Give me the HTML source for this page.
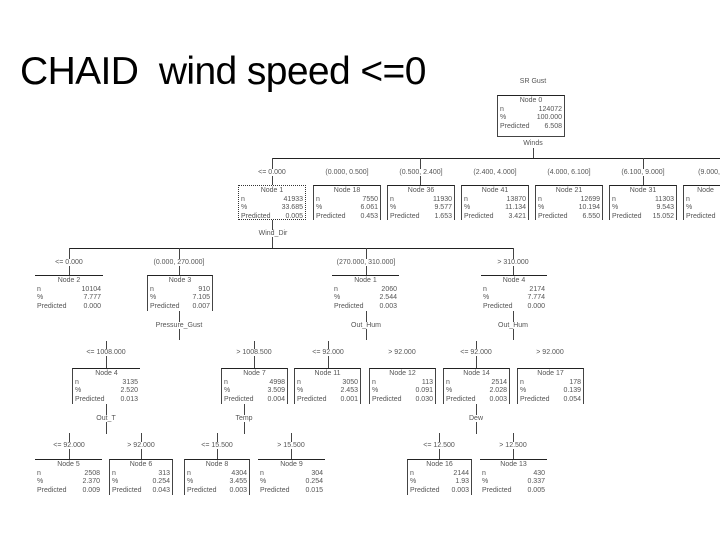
<!DOCTYPE html>
<html><head><meta charset="utf-8"><style>
body{margin:0;width:720px;height:540px;background:#fff;position:relative;overflow:hidden;font-family:"Liberation Sans",sans-serif}
.t{position:absolute;left:20px;top:50px;font-size:39px;white-space:pre;color:#000;letter-spacing:-0.6px}
.b{position:absolute;border-top:1px solid #222;border-left:1px solid #444;border-right:1px solid #444;font-size:7px;color:#555;box-sizing:border-box;padding:1px 2px;line-height:8.5px;background:#fff}
.b.n{border-left:none;border-right:none}
.b .h{text-align:center}
.b .r{display:flex;justify-content:space-between}
.l{position:absolute;font-size:7px;color:#555;transform:translateX(-50%);white-space:nowrap;background:#fff;padding:0 1px}
.hl{position:absolute;height:1px;background:#222}
.vl{position:absolute;width:1px;background:#444}
.d{border:1px dotted #333 !important}
</style></head><body>
<div class="t">CHAID  wind speed &lt;=0</div>

<div class="l" style="left:533px;top:78px">SR Gust</div>
<div class="b" style="left:497px;top:95px;width:68px;height:42px;border-bottom:1px solid #444"><div class="h">Node 0</div><div class="r"><span>n</span><span>124072</span></div><div class="r"><span>%</span><span>100.000</span></div><div class="r"><span>Predicted</span><span>6.508</span></div></div>
<div class="l" style="left:533px;top:140px">Winds</div>
<div class="vl" style="left:533px;top:148px;height:10px"></div>
<div class="hl" style="left:272px;top:158px;width:448px"></div>

<div class="vl" style="left:272px;top:158px;height:27px"></div>
<div class="vl" style="left:420px;top:158px;height:27px"></div>
<div class="vl" style="left:643px;top:158px;height:27px"></div>
<div class="l" style="left:272px;top:169px">&lt;= 0.000</div>
<div class="l" style="left:347px;top:169px">(0.000, 0.500]</div>
<div class="l" style="left:421px;top:169px">(0.500, 2.400]</div>
<div class="l" style="left:495px;top:169px">(2.400, 4.000]</div>
<div class="l" style="left:569px;top:169px">(4.000, 6.100]</div>
<div class="l" style="left:643px;top:169px">(6.100, 9.000]</div>
<div class="l" style="left:712px;top:169px">(9.000, 1</div>

<div class="b d" style="left:238px;top:185px;width:68px;height:35px"><div class="h">Node 1</div><div class="r"><span>n</span><span>41933</span></div><div class="r"><span>%</span><span>33.685</span></div><div class="r"><span>Predicted</span><span>0.005</span></div></div>
<div class="b" style="left:313px;top:185px;width:68px;height:35px"><div class="h">Node 18</div><div class="r"><span>n</span><span>7550</span></div><div class="r"><span>%</span><span>6.061</span></div><div class="r"><span>Predicted</span><span>0.453</span></div></div>
<div class="b" style="left:387px;top:185px;width:68px;height:35px"><div class="h">Node 36</div><div class="r"><span>n</span><span>11930</span></div><div class="r"><span>%</span><span>9.577</span></div><div class="r"><span>Predicted</span><span>1.653</span></div></div>
<div class="b" style="left:461px;top:185px;width:68px;height:35px"><div class="h">Node 41</div><div class="r"><span>n</span><span>13870</span></div><div class="r"><span>%</span><span>11.134</span></div><div class="r"><span>Predicted</span><span>3.421</span></div></div>
<div class="b" style="left:535px;top:185px;width:68px;height:35px"><div class="h">Node 21</div><div class="r"><span>n</span><span>12699</span></div><div class="r"><span>%</span><span>10.194</span></div><div class="r"><span>Predicted</span><span>6.550</span></div></div>
<div class="b" style="left:609px;top:185px;width:68px;height:35px"><div class="h">Node 31</div><div class="r"><span>n</span><span>11303</span></div><div class="r"><span>%</span><span>9.543</span></div><div class="r"><span>Predicted</span><span>15.052</span></div></div>
<div class="b" style="left:683px;top:185px;width:45px;height:35px"><div class="h">Node</div><div class="r"><span>n</span><span></span></div><div class="r"><span>%</span><span></span></div><div class="r"><span>Predicted</span><span></span></div></div>

<div class="vl" style="left:272px;top:220px;height:28px"></div>
<div class="l" style="left:273px;top:230px">Wind_Dir</div>
<div class="hl" style="left:69px;top:248px;width:444px"></div>
<div class="vl" style="left:69px;top:248px;height:27px"></div>
<div class="vl" style="left:179px;top:248px;height:27px"></div>
<div class="vl" style="left:366px;top:248px;height:27px"></div>
<div class="vl" style="left:513px;top:248px;height:27px"></div>
<div class="l" style="left:69px;top:259px">&lt;= 0.000</div>
<div class="l" style="left:179px;top:259px">(0.000, 270.000]</div>
<div class="l" style="left:366px;top:259px">(270.000, 310.000]</div>
<div class="l" style="left:513px;top:259px">&gt; 310.000</div>

<div class="b n" style="left:35px;top:275px;width:68px;height:36px"><div class="h">Node 2</div><div class="r"><span>n</span><span>10104</span></div><div class="r"><span>%</span><span>7.777</span></div><div class="r"><span>Predicted</span><span>0.000</span></div></div>
<div class="b" style="left:147px;top:275px;width:66px;height:36px"><div class="h">Node 3</div><div class="r"><span>n</span><span>910</span></div><div class="r"><span>%</span><span>7.105</span></div><div class="r"><span>Predicted</span><span>0.007</span></div></div>
<div class="b n" style="left:332px;top:275px;width:67px;height:36px"><div class="h">Node 1</div><div class="r"><span>n</span><span>2060</span></div><div class="r"><span>%</span><span>2.544</span></div><div class="r"><span>Predicted</span><span>0.003</span></div></div>
<div class="b n" style="left:481px;top:275px;width:66px;height:36px"><div class="h">Node 4</div><div class="r"><span>n</span><span>2174</span></div><div class="r"><span>%</span><span>7.774</span></div><div class="r"><span>Predicted</span><span>0.000</span></div></div>

<div class="vl" style="left:179px;top:311px;height:29px"></div>
<div class="vl" style="left:366px;top:311px;height:29px"></div>
<div class="vl" style="left:513px;top:311px;height:29px"></div>
<div class="l" style="left:179px;top:322px">Pressure_Gust</div>
<div class="l" style="left:366px;top:322px">Out_Hum</div>
<div class="l" style="left:513px;top:322px">Out_Hum</div>

<div class="vl" style="left:106px;top:341px;height:27px"></div>
<div class="vl" style="left:254px;top:341px;height:27px"></div>
<div class="vl" style="left:328px;top:341px;height:27px"></div>
<div class="vl" style="left:476px;top:341px;height:27px"></div>
<div class="l" style="left:106px;top:349px">&lt;= 1008.000</div>
<div class="l" style="left:254px;top:349px">&gt; 1008.500</div>
<div class="l" style="left:328px;top:349px">&lt;= 92.000</div>
<div class="l" style="left:402px;top:349px">&gt; 92.000</div>
<div class="l" style="left:476px;top:349px">&lt;= 92.000</div>
<div class="l" style="left:550px;top:349px">&gt; 92.000</div>

<div class="b" style="left:72px;top:368px;width:68px;height:36px;border-right:none"><div class="h">Node 4</div><div class="r"><span>n</span><span>3135</span></div><div class="r"><span>%</span><span>2.520</span></div><div class="r"><span>Predicted</span><span>0.013</span></div></div>
<div class="b" style="left:221px;top:368px;width:67px;height:36px"><div class="h">Node 7</div><div class="r"><span>n</span><span>4998</span></div><div class="r"><span>%</span><span>3.509</span></div><div class="r"><span>Predicted</span><span>0.004</span></div></div>
<div class="b" style="left:294px;top:368px;width:67px;height:36px"><div class="h">Node 11</div><div class="r"><span>n</span><span>3050</span></div><div class="r"><span>%</span><span>2.453</span></div><div class="r"><span>Predicted</span><span>0.001</span></div></div>
<div class="b" style="left:369px;top:368px;width:67px;height:36px"><div class="h">Node 12</div><div class="r"><span>n</span><span>113</span></div><div class="r"><span>%</span><span>0.091</span></div><div class="r"><span>Predicted</span><span>0.030</span></div></div>
<div class="b" style="left:443px;top:368px;width:67px;height:36px"><div class="h">Node 14</div><div class="r"><span>n</span><span>2514</span></div><div class="r"><span>%</span><span>2.028</span></div><div class="r"><span>Predicted</span><span>0.003</span></div></div>
<div class="b" style="left:517px;top:368px;width:67px;height:36px"><div class="h">Node 17</div><div class="r"><span>n</span><span>178</span></div><div class="r"><span>%</span><span>0.139</span></div><div class="r"><span>Predicted</span><span>0.054</span></div></div>

<div class="vl" style="left:106px;top:404px;height:30px"></div>
<div class="vl" style="left:244px;top:404px;height:30px"></div>
<div class="vl" style="left:476px;top:404px;height:30px"></div>
<div class="l" style="left:106px;top:415px">Out_T</div>
<div class="l" style="left:244px;top:415px">Temp</div>
<div class="l" style="left:476px;top:415px">Dew</div>

<div class="vl" style="left:69px;top:433px;height:26px"></div>
<div class="vl" style="left:141px;top:433px;height:26px"></div>
<div class="vl" style="left:217px;top:433px;height:26px"></div>
<div class="vl" style="left:291px;top:433px;height:26px"></div>
<div class="vl" style="left:439px;top:433px;height:26px"></div>
<div class="vl" style="left:513px;top:433px;height:26px"></div>
<div class="l" style="left:69px;top:442px">&lt;= 92.000</div>
<div class="l" style="left:141px;top:442px">&gt; 92.000</div>
<div class="l" style="left:217px;top:442px">&lt;= 15.500</div>
<div class="l" style="left:291px;top:442px">&gt; 15.500</div>
<div class="l" style="left:439px;top:442px">&lt;= 12.500</div>
<div class="l" style="left:513px;top:442px">&gt; 12.500</div>

<div class="b n" style="left:35px;top:459px;width:67px;height:36px"><div class="h">Node 5</div><div class="r"><span>n</span><span>2508</span></div><div class="r"><span>%</span><span>2.370</span></div><div class="r"><span>Predicted</span><span>0.009</span></div></div>
<div class="b" style="left:109px;top:459px;width:64px;height:36px"><div class="h">Node 6</div><div class="r"><span>n</span><span>313</span></div><div class="r"><span>%</span><span>0.254</span></div><div class="r"><span>Predicted</span><span>0.043</span></div></div>
<div class="b" style="left:184px;top:459px;width:66px;height:36px"><div class="h">Node 8</div><div class="r"><span>n</span><span>4304</span></div><div class="r"><span>%</span><span>3.455</span></div><div class="r"><span>Predicted</span><span>0.003</span></div></div>
<div class="b n" style="left:258px;top:459px;width:67px;height:36px"><div class="h">Node 9</div><div class="r"><span>n</span><span>304</span></div><div class="r"><span>%</span><span>0.254</span></div><div class="r"><span>Predicted</span><span>0.015</span></div></div>
<div class="b" style="left:407px;top:459px;width:65px;height:36px"><div class="h">Node 16</div><div class="r"><span>n</span><span>2144</span></div><div class="r"><span>%</span><span>1.93</span></div><div class="r"><span>Predicted</span><span>0.003</span></div></div>
<div class="b n" style="left:480px;top:459px;width:67px;height:36px"><div class="h">Node 13</div><div class="r"><span>n</span><span>430</span></div><div class="r"><span>%</span><span>0.337</span></div><div class="r"><span>Predicted</span><span>0.005</span></div></div>
</body></html>
